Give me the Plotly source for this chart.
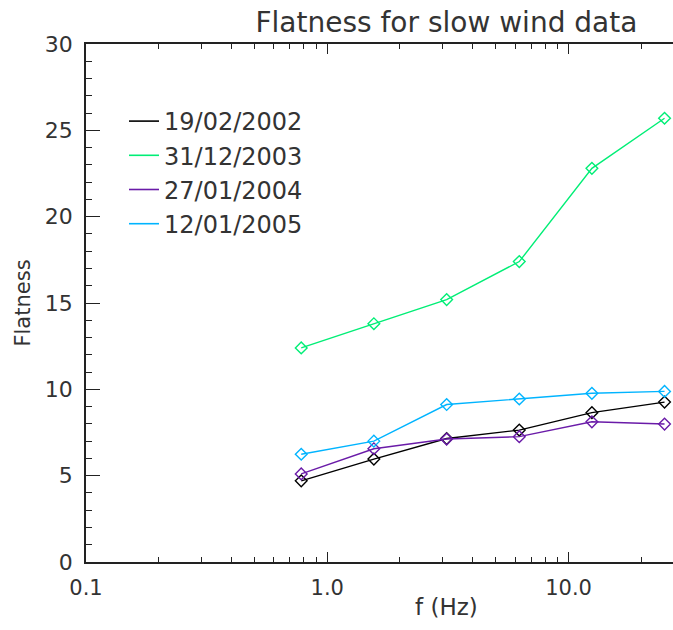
import plotly.graph_objects as go

# Frequencies (Hz) at which the flatness was estimated
freq = [0.78, 1.56, 3.125, 6.25, 12.5, 25.0]

# Flatness per event
dates = ["19/02/2002", "31/12/2003", "27/01/2004", "12/01/2005"]
flat_2002 = [4.7, 5.96, 7.15, 7.64, 8.65, 9.26]
flat_2003 = [12.4, 13.8, 15.2, 17.4, 22.8, 25.7]
flat_2004 = [5.1, 6.56, 7.12, 7.26, 8.12, 7.99]
flat_2005 = [6.24, 7.0, 9.12, 9.44, 9.77, 9.88]
series = [flat_2002, flat_2003, flat_2004, flat_2005]
colors = ["#000000", "#00ee76", "#6a1ba8", "#00b4ff"]

# Axis ticks
x_major = [0.1, 1.0, 10.0]
x_major_text = ["0.1", "1.0", "10.0"]
x_minor = [0.2, 0.3, 0.4, 0.5, 0.6, 0.7, 0.8, 0.9,
           2, 3, 4, 5, 6, 7, 8, 9, 20]
y_major = [0, 5, 10, 15, 20, 25, 30]

W, H = 673, 630
ML, MR, MT, MB = 86, 0, 44, 68
font = "DejaVu Sans"
txt_col = "#333333"

fig = go.Figure()

for name, vals, col in zip(dates, series, colors):
    fig.add_trace(go.Scatter(
        x=freq, y=vals, mode="lines+markers", name=name,
        line=dict(color=col, width=1.4),
        marker=dict(symbol="diamond-open", size=9, color=col,
                    line=dict(width=1.4, color=col)),
        showlegend=False,
    ))
    # line-only legend entry
    fig.add_trace(go.Scatter(
        x=[None], y=[None], mode="lines", name=name,
        line=dict(color=col, width=1.6), legendgroup=name,
    ))

axis_col = "#222222"
fig.update_xaxes(
    type="log", range=[-1, 1.433],
    tickvals=x_major, ticktext=x_major_text,
    ticks="inside", ticklen=10, tickwidth=1.3, tickcolor=axis_col,
    minor=dict(tickvals=x_minor, ticks="inside", ticklen=5,
               tickwidth=1.2, tickcolor=axis_col),
    showline=True, linecolor=axis_col, linewidth=1.6, mirror="ticks",
    showgrid=False, zeroline=False,
    tickfont=dict(family=font, size=21, color=txt_col),
    ticklabelstandoff=6,
)
fig.update_yaxes(
    range=[0, 30], tickvals=y_major,
    ticks="inside", ticklen=14, tickwidth=1.3, tickcolor=axis_col,
    minor=dict(dtick=1, ticks="inside", ticklen=6,
               tickwidth=1.2, tickcolor=axis_col),
    showline=True, linecolor=axis_col, linewidth=1.6,
    showgrid=False, zeroline=False,
    tickfont=dict(family=font, size=22, color=txt_col),
    ticklabelstandoff=7,
    title=dict(text="Flatness", font=dict(family=font, size=21, color=txt_col),
               standoff=8),
)

fig.update_layout(
    width=W, height=H,
    margin=dict(l=ML, r=MR, t=MT, b=MB),
    paper_bgcolor="white", plot_bgcolor="white",
    title=dict(text="Flatness for slow wind data", xref="paper",
               x=0.614, xanchor="center", yref="container",
               y=1 - 22 / H, yanchor="middle",
               font=dict(family=font, size=28, color=txt_col)),
    legend=dict(x=(124 - ML) / (W - ML - MR), xanchor="left",
                y=1 - (99 - MT) / (H - MT - MB), yanchor="top",
                bgcolor="rgba(0,0,0,0)", borderwidth=0,
                itemwidth=30, tracegroupgap=0,
                font=dict(family=font, size=24, color=txt_col)),
    annotations=[dict(text="f (Hz)", xref="paper", yref="paper",
                      x=0.614, y=-45 / (H - MT - MB),
                      xanchor="center", yanchor="middle", showarrow=False,
                      font=dict(family=font, size=23, color=txt_col))],
)

fig.write_html("out.html")
